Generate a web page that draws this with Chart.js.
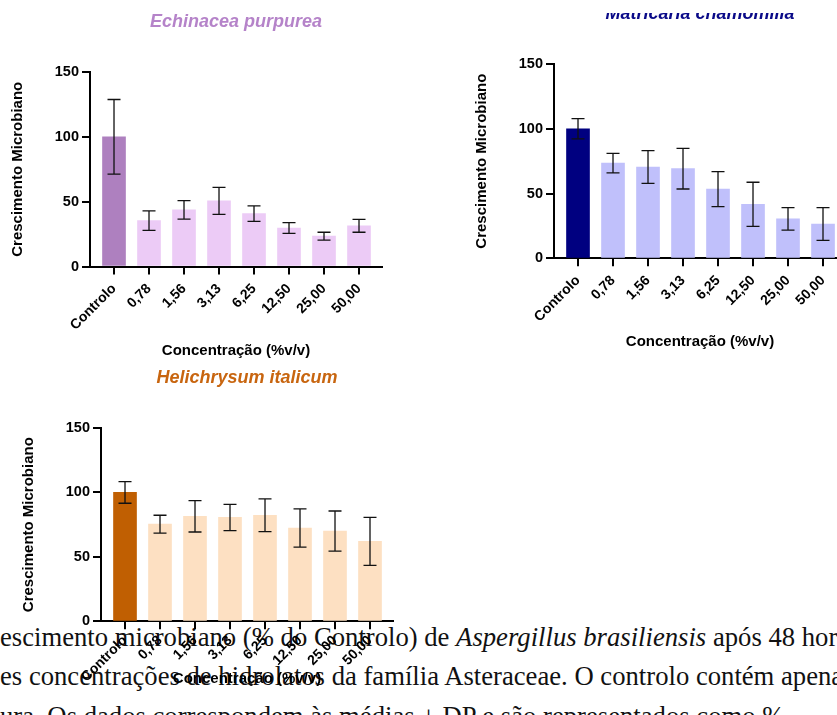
<!DOCTYPE html>
<html><head><meta charset="utf-8">
<script src="https://cdn.jsdelivr.net/npm/chart.js@4/dist/chart.umd.min.js"></script>
<style>
html,body{margin:0;padding:0;width:837px;height:715px;overflow:hidden;background:#fff}
body{position:relative}
.cap{position:absolute;left:0;white-space:nowrap;font-family:'Liberation Serif','Times New Roman',serif;font-size:28px;line-height:28px;color:#111;transform-origin:0 0}
canvas{position:absolute}
#w2{position:absolute;left:460px;top:13px;width:377px;height:360px;overflow:hidden}
</style></head><body>
<div class="cap" id="cap1" style="top:623px"><span id="m1">escimento microbiano (% do Controlo) de <i>Aspergillus brasiliensis</i> após 48 hor</span>as</div>
<div class="cap" id="cap2" style="top:662px">es concentrações de hidrolatos da família Asteraceae. O controlo contém apenas</div>
<div class="cap" id="cap3" style="top:702px">ura. Os dados correspondem às médias ± DP e são representados como %</div>
<canvas id="ch1" width="400" height="364" style="left:0px;top:0px"></canvas>
<div id="w2"><canvas id="ch2" width="402" height="363" style="left:4px;top:-21px"></canvas></div>
<canvas id="ch3" width="400" height="336" style="left:11px;top:356px"></canvas>
<script>
// ---- data ----
const categories = ['Controlo','0,78','1,56','3,13','6,25','12,50','25,00','50,00'];
const yMax = 150;
const yStep = 50;
const echinaceaMean = [100, 35.4, 43.7, 50.6, 40.8, 29.7, 23.4, 31.4];
const echinaceaSD   = [28.8, 7.5, 7.1, 10.4, 6.0, 4.1, 3.0, 5.0];
const matricariaMean = [100, 73.5, 70.5, 69.2, 53.4, 41.7, 30.4, 26.5];
const matricariaSD   = [7.8, 7.5, 12.6, 15.7, 13.5, 17.0, 8.7, 12.6];
const helichrysumMean = [100, 75.4, 81.5, 80.6, 82.3, 72.4, 70.0, 62.0];
const helichrysumSD   = [8.4, 6.9, 12.2, 10.2, 12.7, 14.8, 15.6, 18.6];

// ---- caption fit ----
(function(){
  const w = document.getElementById('m1').offsetWidth;
  const s = 837 / w;
  ['cap1','cap2','cap3'].forEach(id => document.getElementById(id).style.transform = 'scaleX(' + s + ')');
})();

Chart.defaults.font.family = "'Liberation Sans', Arial, sans-serif";
Chart.defaults.color = '#000';

function makeChart(id, opt) {
  const canvas = document.getElementById(id);
  const W = canvas.width, H = canvas.height;
  const axisW = 90, plotW = 292, top = 72;
  const xh = H - top - opt.plotH;
  const colors = categories.map((c, i) => i === 0 ? opt.dark : opt.light);
  const errPlugin = {
    id: 'err_' + id,
    afterDatasetsDraw(chart) {
      const ctx = chart.ctx, xs = chart.scales.x, ys = chart.scales.y;
      ctx.save();
      ctx.strokeStyle = '#111';
      ctx.lineWidth = 1.3;
      opt.mean.forEach((m, i) => {
        const x = xs.getPixelForValue(i);
        const y1 = ys.getPixelForValue(m + opt.sd[i]);
        const y2 = ys.getPixelForValue(m - opt.sd[i]);
        ctx.beginPath();
        ctx.moveTo(x, y1); ctx.lineTo(x, y2);
        ctx.moveTo(x - 6.5, y1); ctx.lineTo(x + 6.5, y1);
        ctx.moveTo(x - 6.5, y2); ctx.lineTo(x + 6.5, y2);
        ctx.stroke();
      });
      ctx.restore();
    }
  };
  const titlePlugin = {
    id: 'title_' + id,
    afterDraw(chart) {
      const ctx = chart.ctx, a = chart.chartArea;
      ctx.save();
      ctx.font = "italic bold 18px 'Liberation Sans', Arial, sans-serif";
      ctx.fillStyle = opt.titleColor;
      ctx.textAlign = 'center';
      ctx.textBaseline = 'alphabetic';
      ctx.fillText(opt.title, (a.left + a.right) / 2, 27);
      ctx.restore();
    }
  };
  return new Chart(canvas, {
    type: 'bar',
    data: {
      datasets: [{
        data: opt.mean.map((v, i) => ({x: i, y: v})),
        backgroundColor: colors,
        barThickness: 23,
        borderWidth: 0
      }]
    },
    options: {
      responsive: false,
      animation: false,
      devicePixelRatio: 1,
      layout: {padding: {left: 0, top: top, right: W - axisW - plotW, bottom: 0}},
      plugins: {legend: {display: false}, tooltip: {enabled: false}},
      scales: {
        x: {
          type: 'linear',
          offset: false,
          min: -0.686, max: 7.657,
          afterFit(s) { s.height = xh; },
          grid: {offset: false, drawOnChartArea: false, drawTicks: true, tickLength: 8, color: '#000', lineWidth: 2},
          border: {display: true, color: '#000', width: 2},
          ticks: {
            stepSize: 1, includeBounds: false, autoSkip: false,
            minRotation: 45, maxRotation: 45, padding: opt.tickPad,
            font: {size: 14, weight: 'bold'}, color: '#000',
            callback: v => categories[v]
          },
          title: {display: true, text: 'Concentração (%v/v)', font: {size: 15, weight: 'bold'}, color: '#000', padding: {top: 4, bottom: 4}}
        },
        y: {
          min: 0, max: yMax,
          afterFit(s) { s.width = axisW; },
          grid: {drawOnChartArea: false, drawTicks: true, tickLength: 8, color: '#000', lineWidth: 2},
          border: {display: true, color: '#000', width: 2},
          ticks: {stepSize: yStep, font: {size: 14.5, weight: 'bold'}, color: '#000', padding: 3},
          title: {display: true, text: 'Crescimento Microbiano', font: {size: 15, weight: 'bold'}, color: '#000', padding: {top: 9, bottom: 0}}
        }
      }
    },
    plugins: [errPlugin, titlePlugin]
  });
}

makeChart('ch1', {title: 'Echinacea purpurea', titleColor: '#b583c9', dark: '#ae80bf', light: '#eccbf6', mean: echinaceaMean, sd: echinaceaSD, plotH: 194.5, tickPad: 6});
makeChart('ch2', {title: 'Matricaria chamomilla', titleColor: '#0a0a88', dark: '#000080', light: '#c0c0fb', mean: matricariaMean, sd: matricariaSD, plotH: 194.3, tickPad: 6});
makeChart('ch3', {title: 'Helichrysum italicum', titleColor: '#c8650f', dark: '#c05f02', light: '#fde0c2', mean: helichrysumMean, sd: helichrysumSD, plotH: 193.3, tickPad: 3});
</script>
</body></html>
